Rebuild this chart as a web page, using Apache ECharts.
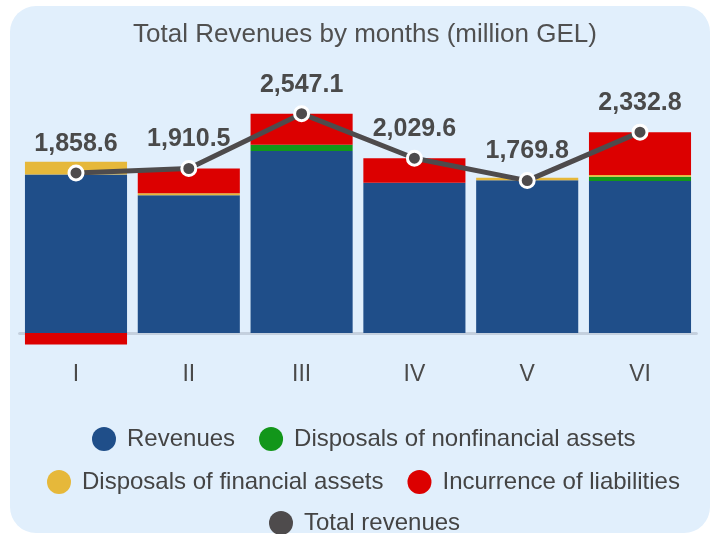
<!DOCTYPE html>
<html>
<head>
    <meta charset="utf-8"/>
    <title>Total Revenues by months</title>
    <script src="https://cdn.jsdelivr.net/npm/echarts@6/dist/echarts.min.js"></script>
    <style>
        html, body { margin: 0; padding: 0; background: #fff; }
        #main { width: 719px; height: 534px; }
    </style>
</head>
<body>
<div id="main"></div>
<script type="text/javascript">
    var months = ['I', 'II', 'III', 'IV', 'V', 'VI'];
    var revenues = [1840, 1600, 2115, 1744, 1773, 1765];
    var nonfinancial = [0, 0, 70, 0, 0, 50];
    var financial = [150, 22, 0, 0, 30, 20];
    var liabilities = [-135, 288.5, 362.1, 285.6, 0, 497.8];
    var totals = [1858.6, 1910.5, 2547.1, 2029.6, 1769.8, 2332.8];

    var font = "'Liberation Sans', Arial, sans-serif";
    var myChart = echarts.init(document.getElementById('main'));

    function barSeries(name, data, color) {
        return {
            name: name,
            type: 'bar',
            stack: 'rev',
            data: data,
            barCategoryGap: '9.5%',
            itemStyle: {color: color},
            emphasis: {disabled: true}
        };
    }

    var legendBase = {
        icon: 'circle',
        itemWidth: 24,
        itemHeight: 24,
        itemGap: 24,
        itemStyle: {borderWidth: 0},
        textStyle: {fontFamily: font, fontSize: 24, color: '#444', padding: [0, 0, 0, 6]}
    };

    myChart.setOption({
        animation: false,
        graphic: [{
            type: 'rect',
            z: -100,
            shape: {x: 10, y: 6, width: 700, height: 527, r: 26},
            style: {fill: '#e1effc'}
        }],
        title: {
            text: 'Total Revenues by months (million GEL)',
            left: 360,
            textAlign: 'center',
            top: 17,
            textStyle: {fontFamily: font, fontSize: 26, fontWeight: 'normal', color: '#505050'}
        },
        legend: [
            Object.assign({}, legendBase, {left: 87, top: 422, data: ['Revenues', 'Disposals of nonfinancial assets']}),
            Object.assign({}, legendBase, {left: 42, top: 465, data: ['Disposals of financial assets', 'Incurrence of liabilities']}),
            Object.assign({}, legendBase, {left: 264, top: 506, data: ['Total revenues']})
        ],
        grid: {left: 19.6, right: 22.6, top: 91.9, bottom: 183.8},
        xAxis: {
            type: 'category',
            data: months,
            axisLine: {onZero: true, lineStyle: {color: '#c4d0de', width: 3}},
            axisTick: {show: false},
            axisLabel: {margin: 13, fontFamily: font, fontSize: 23, color: '#4a4a4a'}
        },
        yAxis: {
            type: 'value',
            show: false,
            min: -200,
            max: 2800,
            splitLine: {show: false}
        },
        series: [
            barSeries('Revenues', revenues, '#1f4e89'),
            barSeries('Disposals of nonfinancial assets', nonfinancial, '#12961a'),
            barSeries('Disposals of financial assets', financial, '#e6b83a'),
            barSeries('Incurrence of liabilities', liabilities, '#dc0000'),
            {
                name: 'Total revenues',
                type: 'line',
                data: totals,
                z: 5,
                symbol: 'circle',
                symbolSize: 14,
                lineStyle: {color: '#4e4b4c', width: 5},
                itemStyle: {color: '#4e4b4c', borderColor: '#fff', borderWidth: 3},
                label: {
                    show: true,
                    position: 'top',
                    distance: 8,
                    fontFamily: font,
                    fontSize: 25,
                    fontWeight: 'bold',
                    color: '#4a4a4a',
                    formatter: function (p) {
                        return p.value.toLocaleString('en-US', {minimumFractionDigits: 1, maximumFractionDigits: 1});
                    }
                },
                emphasis: {disabled: true}
            }
        ]
    });
</script>
</body>
</html>
